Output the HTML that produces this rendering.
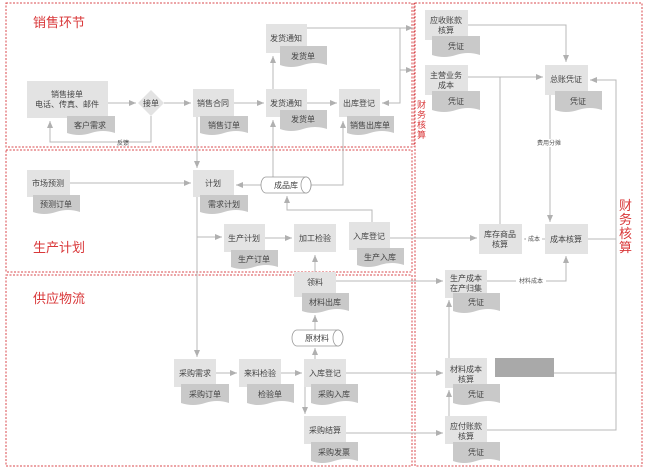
<!DOCTYPE html>
<html><head><meta charset="utf-8"><style>
html,body{margin:0;padding:0;background:#fff;}
svg{display:block;font-family:"Liberation Sans","Noto Sans CJK SC",sans-serif;}
</style></head><body>
<svg width="652" height="472" viewBox="0 0 652 472" xmlns="http://www.w3.org/2000/svg">
<defs>
<marker id="a" markerWidth="8" markerHeight="8" refX="7" refY="4" orient="auto" markerUnits="userSpaceOnUse"><path d="M0,1 L7,4 L0,7 Z" fill="#b0b0b0"/></marker>
</defs>
<g fill="none" stroke="#d9484c" stroke-width="1" stroke-dasharray="2,1.5">
<rect x="6" y="3" width="406" height="144"/>
<rect x="6" y="150" width="406" height="122"/>
<rect x="6" y="275" width="406" height="191"/>
<rect x="415" y="3" width="227" height="463"/>
<line x1="414" y1="3" x2="414" y2="147"/>
</g>
<g fill="#d9383a" font-size="13">
<text x="33" y="27">销售环节</text>
<text x="33" y="252">生产计划</text>
<text x="33" y="303">供应物流</text>
</g>
<g fill="#d9383a" font-size="9"><text x="417" y="108">财</text><text x="417" y="118">务</text><text x="417" y="128">核</text><text x="417" y="138">算</text></g>
<g fill="#d9383a" font-size="13"><text x="619" y="210">财</text><text x="619" y="224">务</text><text x="619" y="238">核</text><text x="619" y="252">算</text></g>

<g fill="none" stroke="#b8b8b8" stroke-width="1">
<!-- sales -->
<path d="M108 103 H136" marker-end="url(#a)"/>
<path d="M164 103 H191" marker-end="url(#a)"/>
<path d="M151 116 V142 H50 V121" marker-end="url(#a)"/>
<path d="M234 103 H264" marker-end="url(#a)"/>
<path d="M307 103 H337" marker-end="url(#a)"/>
<path d="M273 89 V56" marker-end="url(#a)"/>
<path d="M307 28 H413" marker-end="url(#a)"/>
<path d="M400 28 V103 H382" marker-end="url(#a)"/>
<path d="M400 70 H413" marker-end="url(#a)"/>
<path d="M197 117 V168" marker-end="url(#a)"/>
<path d="M273 177 V120" marker-end="url(#a)"/>
<path d="M311 185 H343 V121" marker-end="url(#a)"/>
<!-- production -->
<path d="M70 183 H191" marker-end="url(#a)"/>
<path d="M262 185 H236" marker-end="url(#a)"/>
<path d="M197 197 V357" marker-end="url(#a)"/>
<path d="M197 237 H222" marker-end="url(#a)"/>
<path d="M265 238 H292" marker-end="url(#a)"/>
<path d="M372 222 V210 H287 V196" marker-end="url(#a)"/>
<path d="M390 238 H477" marker-end="url(#a)"/>
<path d="M315 272 V255" marker-end="url(#a)"/>
<!-- supply -->
<path d="M216 373 H237" marker-end="url(#a)"/>
<path d="M281 373 H302" marker-end="url(#a)"/>
<path d="M315 359 V348" marker-end="url(#a)"/>
<path d="M315 330 V315" marker-end="url(#a)"/>
<path d="M305 387 V414" marker-end="url(#a)"/>
<path d="M336 281 H443" marker-end="url(#a)"/>
<path d="M346 373 H443" marker-end="url(#a)"/>
<path d="M346 433 H443" marker-end="url(#a)"/>
<!-- finance -->
<path d="M468 25 H566 V62" marker-end="url(#a)"/>
<path d="M468 77 H543" marker-end="url(#a)"/>
<path d="M500 224 V77"/>
<path d="M550 95 V222" marker-end="url(#a)"/>
<path d="M545 239 H524" marker-end="url(#a)"/>
<path d="M588 239 H616 V80 H590" marker-end="url(#a)"/>
<path d="M616 239 V430 H487"/>
<path d="M554 373 H616"/>
<path d="M487 281 H566 V256" marker-end="url(#a)"/>
<path d="M449 416 V390" marker-end="url(#a)"/>
<path d="M449 358 V300" marker-end="url(#a)"/>
</g>

<!-- process boxes -->
<g fill="#e3e3e3">
<rect x="27" y="81" width="81" height="37"/>
<rect x="193" y="89" width="41" height="28"/>
<rect x="266" y="24" width="41" height="29"/>
<rect x="266" y="89" width="41" height="28"/>
<rect x="339" y="89" width="41" height="28"/>
<rect x="27" y="170" width="43" height="27"/>
<rect x="193" y="170" width="41" height="27"/>
<rect x="224" y="224" width="41" height="28"/>
<rect x="294" y="224" width="42" height="28"/>
<rect x="349" y="222" width="41" height="28"/>
<rect x="294" y="272" width="42" height="25"/>
<rect x="174" y="359" width="42" height="28"/>
<rect x="239" y="359" width="42" height="28"/>
<rect x="304" y="359" width="42" height="28"/>
<rect x="304" y="416" width="42" height="28"/>
<rect x="425" y="10" width="43" height="30"/>
<rect x="425" y="65" width="43" height="30"/>
<rect x="545" y="65" width="43" height="30"/>
<rect x="479" y="224" width="43" height="30"/>
<rect x="545" y="224" width="43" height="30"/>
<rect x="445" y="270" width="42" height="28"/>
<rect x="445" y="358" width="42" height="30"/>
<rect x="445" y="416" width="42" height="28"/>
</g>
<path d="M151 90 L164 103 L151 116 L138 103 Z" fill="#e3e3e3"/>
<rect x="495" y="358" width="59" height="19" fill="#a9a9a9"/>
<g fill="#fff" stroke="#999" stroke-width="0.8">
<path d="M266 177 H306 A5 8 0 0 1 306 193 H266 A5 8 0 0 1 266 177 Z"/>
<ellipse cx="306" cy="185" rx="5" ry="8"/>
<path d="M297 330 H338 A5 8 0 0 1 338 346 H297 A5 8 0 0 1 297 330 Z"/>
<ellipse cx="338" cy="338" rx="5" ry="8"/>
</g>
<!-- documents -->
<g fill="#c9c9c9">
<path d="M67 116 H115 V133 Q103 129 91 133 T67 133 Z"/>
<path d="M200 116 H248 V133 Q236 129 224 133 T200 133 Z"/>
<path d="M280 46 H327 V65 Q315 61 303 65 T280 65 Z"/>
<path d="M280 110 H327 V129 Q315 125 303 129 T280 129 Z"/>
<path d="M347 116 H394 V133 Q382 129 370 133 T347 133 Z"/>
<path d="M33 195 H80 V212 Q68 208 56 212 T33 212 Z"/>
<path d="M200 195 H248 V212 Q236 208 224 212 T200 212 Z"/>
<path d="M231 250 H278 V267 Q266 263 254 267 T231 267 Z"/>
<path d="M357 248 H404 V265 Q392 261 380 265 T357 265 Z"/>
<path d="M302 293 H349 V311 Q337 307 325 311 T302 311 Z"/>
<path d="M181 384 H229 V403 Q217 399 205 403 T181 403 Z"/>
<path d="M247 384 H294 V403 Q282 399 270 403 T247 403 Z"/>
<path d="M311 384 H358 V403 Q346 399 334 403 T311 403 Z"/>
<path d="M311 442 H358 V461 Q346 457 334 461 T311 461 Z"/>
<path d="M432 36 H480 V55 Q468 51 456 55 T432 55 Z"/>
<path d="M432 91 H480 V110 Q468 106 456 110 T432 110 Z"/>
<path d="M555 91 H602 V110 Q590 106 578 110 T555 110 Z"/>
<path d="M453 293 H500 V311 Q488 307 476 311 T453 311 Z"/>
<path d="M453 384 H500 V403 Q488 399 476 403 T453 403 Z"/>
<path d="M453 442 H500 V461 Q488 457 476 461 T453 461 Z"/>
</g>
<g fill="#444" font-size="8" text-anchor="middle">
<text x="67" y="97">销售接单</text><text x="67" y="107">电话、传真、邮件</text>
<text x="90" y="128">客户需求</text>
<text x="151" y="106">接单</text>
<text x="213" y="106">销售合同</text><text x="224" y="128">销售订单</text>
<text x="286" y="41">发货通知</text><text x="303" y="59">发货单</text>
<text x="286" y="106">发货通知</text><text x="303" y="122">发货单</text>
<text x="359" y="106">出库登记</text><text x="370" y="128">销售出库单</text>
<text x="123" y="145" font-size="6">反馈</text>
<text x="48" y="186">市场预测</text><text x="56" y="207">预测订单</text>
<text x="213" y="186">计划</text><text x="224" y="207">需求计划</text>
<text x="286" y="188">成品库</text>
<text x="244" y="241">生产计划</text><text x="254" y="262">生产订单</text>
<text x="315" y="241">加工检验</text>
<text x="369" y="239">入库登记</text><text x="380" y="260">生产入库</text>
<text x="315" y="285">领料</text><text x="325" y="305">材料出库</text>
<text x="317" y="341">原材料</text>
<text x="195" y="376">采购需求</text><text x="205" y="397">采购订单</text>
<text x="260" y="376">来料检验</text><text x="270" y="397">检验单</text>
<text x="325" y="376">入库登记</text><text x="334" y="397">采购入库</text>
<text x="325" y="433">采购结算</text><text x="334" y="455">采购发票</text>
<text x="446" y="23">应收账款</text><text x="446" y="33">核算</text><text x="456" y="49">凭证</text>
<text x="446" y="78">主营业务</text><text x="446" y="88">成本</text><text x="456" y="104">凭证</text>
<text x="566" y="82">总账凭证</text><text x="578" y="104">凭证</text>
<text x="500" y="237">库存商品</text><text x="500" y="247">核算</text>
<text x="566" y="242">成本核算</text>
<text x="466" y="281">生产成本</text><text x="466" y="291">在产归集</text><text x="476" y="305">凭证</text>
<text x="466" y="372">材料成本</text><text x="466" y="382">核算</text><text x="476" y="397">凭证</text>
<text x="466" y="429">应付账款</text><text x="466" y="439">核算</text><text x="476" y="455">凭证</text>
</g>
<g fill="#555" font-size="6" text-anchor="middle">
<rect x="534" y="139" width="30" height="8" fill="#fff"/>
<text x="549" y="145">费用分摊</text>
<rect x="526" y="235" width="16" height="8" fill="#fff"/>
<text x="534" y="241">成本</text>
<rect x="516" y="277" width="30" height="8" fill="#fff"/>
<text x="531" y="283">材料成本</text>
</g>
</svg>
</body></html>
